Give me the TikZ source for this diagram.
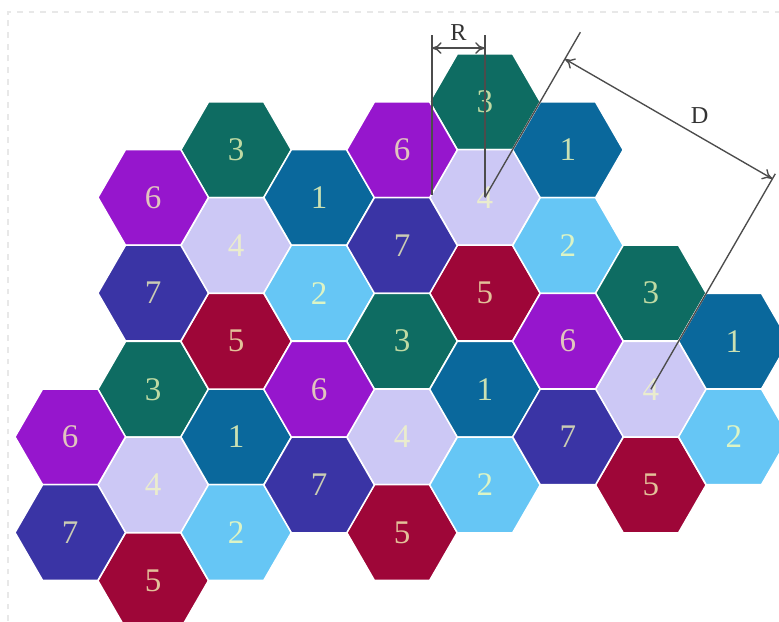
\documentclass[tikz,border=0pt]{standalone}
\usepackage{fontspec}
\setmainfont{Liberation Serif}
\usetikzlibrary{shapes.geometric,calc,arrows.meta}

\definecolor{cellone}{RGB}{10,104,156}
\definecolor{celltwo}{RGB}{102,198,245}
\definecolor{cellthree}{RGB}{14,108,98}
\definecolor{cellfour}{RGB}{204,200,245}
\definecolor{cellfive}{RGB}{158,6,56}
\definecolor{cellsix}{RGB}{150,22,205}
\definecolor{cellseven}{RGB}{58,52,165}
\definecolor{numtext}{RGB}{250,255,185}

\tikzset{
	hex/.style={regular polygon, regular polygon sides=6, minimum size=2cm, inner sep=0pt,
		draw=white, line width=0.8pt, font=\fontsize{17}{20}\selectfont},
	cell1/.style={hex, fill=cellone, text=numtext!80!cellone},
	cell2/.style={hex, fill=celltwo, text=numtext!80!celltwo},
	cell3/.style={hex, fill=cellthree, text=numtext!75!cellthree},
	cell4/.style={hex, fill=cellfour, text=numtext!65!cellfour},
	cell5/.style={hex, fill=cellfive, text=numtext!75!cellfive},
	cell6/.style={hex, fill=cellsix, text=numtext!75!cellsix},
	cell7/.style={hex, fill=cellseven, text=numtext!75!cellseven},
	dim/.style={draw=black!70, line width=0.7pt},
	dimarrow/.style={dim, {To[length=5pt,width=6pt]}-{To[length=5pt,width=6pt]}},
	dimlabel/.style={font=\fontsize{12.5}{14}\selectfont, text=black!80}
}

\begin{document}
\begin{tikzpicture}
	\useasboundingbox (0,0) rectangle (14.087,-11.23);

	% faint frame of the page
	\draw[black!9, dashed, line width=1pt] (0.14,-11.23) -- (0.14,-0.22) -- (14.087,-0.22);

	% Cluster E (lower left)
	\node[cell3] (E3) at (2.77,-7.04) {3};
	\node[cell4] (E4) at (2.77,-8.77) {4};
	\node[cell5] (E5) at (2.77,-10.50) {5};
	\node[cell6] (E6) at (1.27,-7.90) {6};
	\node[cell7] (E7) at (1.27,-9.63) {7};
	\node[cell1] (E1) at (4.27,-7.90) {1};
	\node[cell2] (E2) at (4.27,-9.63) {2};

	% Cluster A (upper left)
	\node[cell3] (A3) at (4.27,-2.71) {3};
	\node[cell4] (A4) at (4.27,-4.44) {4};
	\node[cell5] (A5) at (4.27,-6.17) {5};
	\node[cell6] (A6) at (2.77,-3.57) {6};
	\node[cell7] (A7) at (2.77,-5.30) {7};
	\node[cell1] (A1) at (5.77,-3.57) {1};
	\node[cell2] (A2) at (5.77,-5.30) {2};

	% Cluster B (top)
	\node[cell3] (B3) at (8.77,-1.84) {3};
	\node[cell4] (B4) at (8.77,-3.57) {4};
	\node[cell5] (B5) at (8.77,-5.30) {5};
	\node[cell6] (B6) at (7.27,-2.71) {6};
	\node[cell7] (B7) at (7.27,-4.44) {7};
	\node[cell1] (B1) at (10.27,-2.71) {1};
	\node[cell2] (B2) at (10.27,-4.44) {2};

	% Cluster C (middle)
	\node[cell3] (C3) at (7.27,-6.17) {3};
	\node[cell4] (C4) at (7.27,-7.90) {4};
	\node[cell5] (C5) at (7.27,-9.63) {5};
	\node[cell6] (C6) at (5.77,-7.04) {6};
	\node[cell7] (C7) at (5.77,-8.77) {7};
	\node[cell1] (C1) at (8.77,-7.04) {1};
	\node[cell2] (C2) at (8.77,-8.77) {2};

	% Cluster D (right)
	\node[cell3] (D3) at (11.77,-5.30) {3};
	\node[cell4] (D4) at (11.77,-7.04) {4};
	\node[cell5] (D5) at (11.77,-8.77) {5};
	\node[cell6] (D6) at (10.27,-6.17) {6};
	\node[cell7] (D7) at (10.27,-7.90) {7};
	\node[cell1] (D1) at (13.27,-6.17) {1};
	\node[cell2] (D2) at (13.27,-7.90) {2};

	% Radius R
	\coordinate (Rlow) at ($(B4)+(-0.96,0.05)$);
	\coordinate (Rleft) at ($(B4)+(-0.96,2.94)$);
	\coordinate (Rright) at ($(B4)+(0,2.94)$);
	\draw[dim] (Rlow) -- (Rleft);
	\draw[dim] (B4.center) -- (Rright);
	\draw[dimarrow] ($(B4)+(-0.96,2.70)$) -- ($(B4)+(0,2.70)$) node[midway, above, dimlabel] {R};

	% Reuse distance D
	\coordinate (Bend) at ($(B4)+(60:3.45)$);
	\coordinate (Dend) at ($(D4)+(60:4.5)$);
	\draw[dim] (B4.center) -- (Bend);
	\draw[dim] (D4.center) -- (Dend);
	\coordinate (Da) at ($(B4)+(60:2.89)$);
	\coordinate (Db) at ($(Da)+(-30:4.33)$);
	\draw[dimarrow] (Da) -- (Db) node[pos=0.65, above=3pt, dimlabel] {D};

\end{tikzpicture}
\end{document}
